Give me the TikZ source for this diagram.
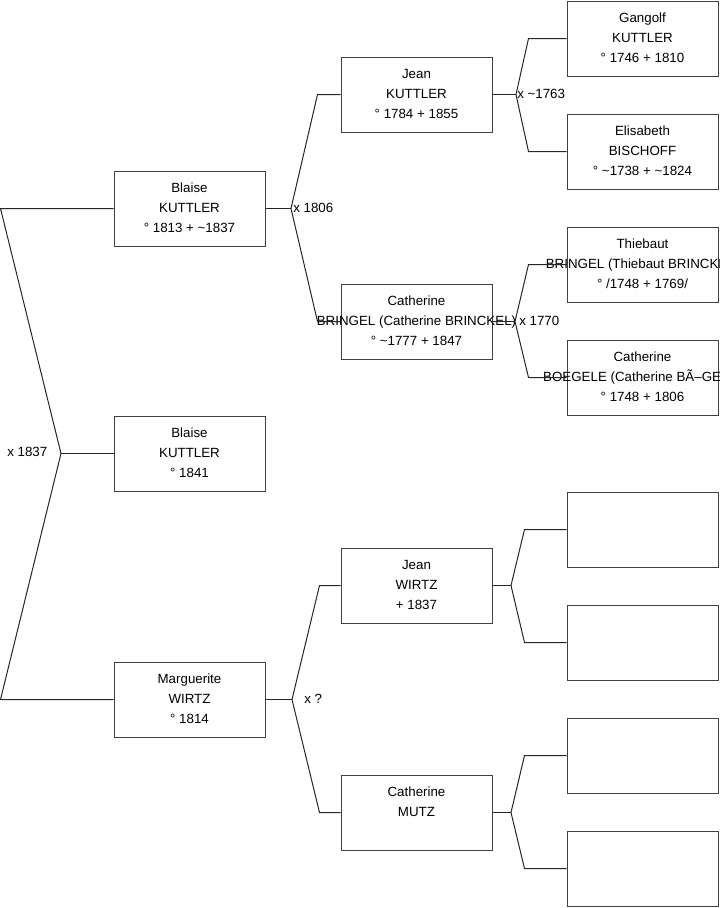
\documentclass[tikz,border=0pt]{standalone}
\usepackage{fontspec}
\setmainfont{Liberation Sans}
\usetikzlibrary{calc}
\newcommand{\tl}{\textasciitilde}
\newcommand{\pline}[1]{\makebox[0pt][c]{\strut #1}}
\begin{document}
\begin{tikzpicture}[x=0.75pt,y=-0.75pt,
  person/.style={draw=black!75, line width=0.75pt, fill=white,
    minimum width=113.25pt, minimum height=56.25pt, inner sep=0pt,
    align=center, font=\fontsize{10}{15}\selectfont},
  link/.style={draw=black!85, line width=0.75pt},
  marr/.style={anchor=west, inner sep=0pt, font=\fontsize{10}{12}\selectfont}]
\useasboundingbox (0,0) rectangle (719,908);
\clip (0,0) rectangle (719,908);
% generation 3
\node[person] (b1) at (189.5,208.5) {\pline{Blaise}\\\pline{KUTTLER}\\\pline{° 1813 + \tl1837}};
\node[person] (b2) at (189.5,453.5) {\pline{Blaise}\\\pline{KUTTLER}\\\pline{° 1841}};
\node[person] (b3) at (189.5,699.5) {\pline{Marguerite}\\\pline{WIRTZ}\\\pline{° 1814}};
% generation 2
\node[person] (j1) at (416.5,94.5) {\pline{Jean}\\\pline{KUTTLER}\\\pline{° 1784 + 1855}};
\node[person] (j2) at (416.5,321.5) {\pline{Catherine}\\\pline{BRINGEL (Catherine BRINCKEL)}\\\pline{° \tl1777 + 1847}};
\node[person] (j3) at (416.5,585.5) {\pline{Jean}\\\pline{WIRTZ}\\\pline{+ 1837}};
\node[person] (j4) at (416.5,812.5) {\pline{Catherine}\\\pline{MUTZ}\\\pline{}};
% generation 1
\node[person] (g1) at (642.5,38.5) {\pline{Gangolf}\\\pline{KUTTLER}\\\pline{° 1746 + 1810}};
\node[person] (g2) at (642.5,151.5) {\pline{Elisabeth}\\\pline{BISCHOFF}\\\pline{° \tl1738 + \tl1824}};
\node[person] (g3) at (642.5,264.5) {\pline{Thiebaut}\\\pline{BRINGEL (Thiebaut BRINCKEL)}\\\pline{° /1748 + 1769/}};
\node[person] (g4) at (642.5,377.5) {\pline{Catherine}\\\pline{BOEGELE (Catherine BÃ–GELE)}\\\pline{° 1748 + 1806}};
\node[person] (g5) at (642.5,529.5) {};
\node[person] (g6) at (642.5,642.5) {};
\node[person] (g7) at (642.5,755.5) {};
\node[person] (g8) at (642.5,868.5) {};
% fork points
\coordinate (r) at (61,453.5);
\coordinate (rt) at (0.5,208.5);
\coordinate (rb) at (0.5,699.5);
\coordinate (f1) at (291,208.5);
\coordinate (f3) at (292,699.5);
\coordinate (fj1) at (516,94.5);
\coordinate (fj2) at (515,321.5);
\coordinate (fj3) at (511,585.5);
\coordinate (fj4) at (511,812.5);
% root connectors
\draw[link] (b1.west) -- (rt) -- (r) -- (rb) -- (b3.west);
\draw[link] (r) -- (b2.west);
% gen3 -> gen2
\draw[link] (b1.east) -- (f1);
\draw[link] (j1.west) -- ($(j1.west)+(-23,0)$) -- (f1) -- ($(j2.west)+(-23,0)$) -- (j2.west);
\draw[link] (b3.east) -- (f3);
\draw[link] (j3.west) -- ($(j3.west)+(-21,0)$) -- (f3) -- ($(j4.west)+(-21,0)$) -- (j4.west);
% gen2 -> gen1
\draw[link] (j1.east) -- (fj1);
\draw[link] (g1.west) -- ($(g1.west)+(-38,0)$) -- (fj1) -- ($(g2.west)+(-38,0)$) -- (g2.west);
\draw[link] (j2.east) -- (fj2);
\draw[link] (g3.west) -- ($(g3.west)+(-38,0)$) -- (fj2) -- ($(g4.west)+(-38,0)$) -- (g4.west);
\draw[link] (j3.east) -- (fj3);
\draw[link] (g5.west) -- ($(g5.west)+(-42,0)$) -- (fj3) -- ($(g6.west)+(-42,0)$) -- (g6.west);
\draw[link] (j4.east) -- (fj4);
\draw[link] (g7.west) -- ($(g7.west)+(-42,0)$) -- (fj4) -- ($(g8.west)+(-42,0)$) -- (g8.west);
% marriage labels
\node[marr] (m0) at (7,452) {x 1837};
\node[marr] (m1) at (293,207.5) {x 1806};
\node[marr] (m2) at (304,698.5) {x ?};
\node[marr] (m3) at (517,93.5) {x \tl1763};
\node[marr] (m4) at (519,321) {x 1770};
\end{tikzpicture}
\end{document}
